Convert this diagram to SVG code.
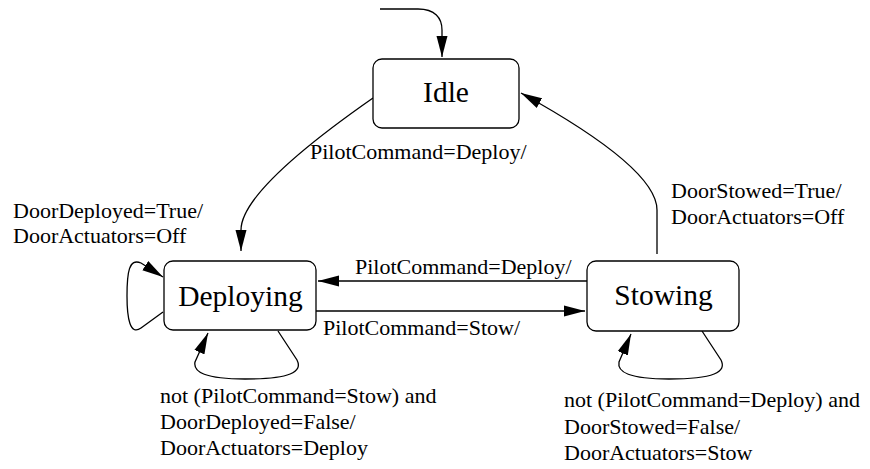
<svg xmlns="http://www.w3.org/2000/svg" width="870" height="469" viewBox="0 0 870 469">
<defs>
<marker id="ah" markerUnits="userSpaceOnUse" markerWidth="22" markerHeight="12" refX="21" refY="6" orient="auto">
<path d="M0,0.5 L21,6 L0,11.5 z" fill="#000"/>
</marker>
<style>
.box{fill:#fff;stroke:#000;stroke-width:1.3}
.edge{fill:none;stroke:#000;stroke-width:1.3;marker-end:url(#ah)}
</style>
</defs>
<rect width="870" height="469" fill="#fff"/>
<g id="connectors">
<path class="edge" d="M380,9 L418,9 C435,9 442,18 442,30 L442,57"/>
<path class="edge" d="M373,98 Q241,190 241,230 L241,251"/>
<path class="edge" d="M657,254 L657,210 Q657,168 521,93"/>
<path class="edge" d="M587,281 L318,281"/>
<path class="edge" d="M316,311 L585,311"/>
<path class="edge" d="M163,312 L141,328 C130,336 127,318 127,296 C127,272 129,258 141,263 L163,277"/>
<path class="edge" d="M278,331 L297,360 C303,372 290,379 245,379 C205,379 193,372 195,362 L208,333"/>
<path class="edge" d="M702,331 L721,360 C727,372 714,379 669,379 C629,379 617,372 619,362 L631,334"/>
</g>
<g id="labels" font-size="22" fill="#000">
<text x="310" y="159" font-family="Liberation Serif, serif">PilotCommand=Deploy/</text>
<text x="671" y="198" font-family="Liberation Serif, serif">DoorStowed=True/</text>
<text x="671" y="224" font-family="Liberation Serif, serif">DoorActuators=Off</text>
<text x="13" y="218" font-family="Liberation Serif, serif">DoorDeployed=True/</text>
<text x="13" y="243" font-family="Liberation Serif, serif">DoorActuators=Off</text>
<text x="355" y="274" font-family="Liberation Serif, serif">PilotCommand=Deploy/</text>
<text x="323" y="335" font-family="Liberation Serif, serif">PilotCommand=Stow/</text>
<text x="160" y="403" font-family="Liberation Serif, serif">not (PilotCommand=Stow) and</text>
<text x="160" y="429" font-family="Liberation Serif, serif">DoorDeployed=False/</text>
<text x="160" y="455" font-family="Liberation Serif, serif">DoorActuators=Deploy</text>
<text x="564" y="407" font-family="Liberation Serif, serif">not (PilotCommand=Deploy) and</text>
<text x="564" y="434" font-family="Liberation Serif, serif">DoorStowed=False/</text>
<text x="564" y="460" font-family="Liberation Serif, serif">DoorActuators=Stow</text>
</g>
<g id="idle" font-size="29.5" fill="#000">
<rect class="box" x="373" y="59" width="146" height="69" rx="9"/>
<text x="446" y="102" font-family="Liberation Serif, serif" text-anchor="middle">Idle</text>
</g>
<g id="deploying" font-size="29.5" fill="#000">
<rect class="box" x="164" y="261" width="152" height="69" rx="9"/>
<text x="240.5" y="306" font-family="Liberation Serif, serif" text-anchor="middle">Deploying</text>
</g>
<g id="stowing" font-size="29.5" fill="#000">
<rect class="box" x="587" y="261" width="152" height="70" rx="9"/>
<text x="663.5" y="305" font-family="Liberation Serif, serif" text-anchor="middle">Stowing</text>
</g>
</svg>
